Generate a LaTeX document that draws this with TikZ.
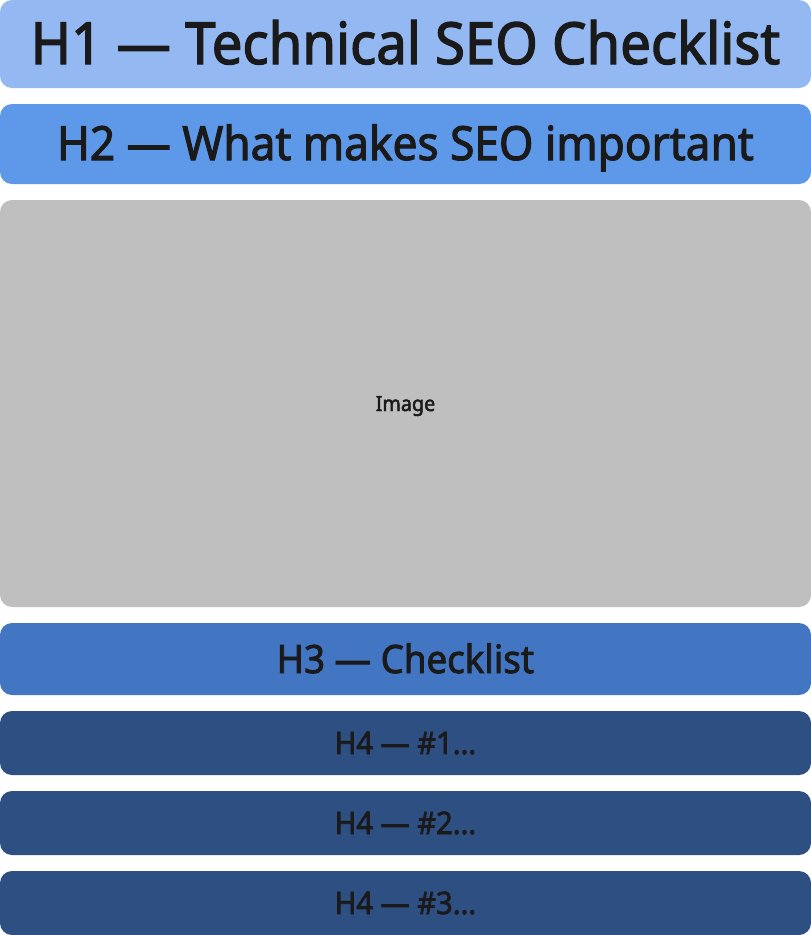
\documentclass[tikz,border=0pt]{standalone}
\usepackage{fontspec}
\setmainfont{Noto Sans}[FakeBold=2.2,FakeStretch=0.94]
\definecolor{hone}{RGB}{147,184,242}
\definecolor{htwo}{RGB}{94,152,232}
\definecolor{hthree}{RGB}{67,118,194}
\definecolor{hfour}{RGB}{45,79,130}
\definecolor{imggray}{RGB}{191,191,191}
\definecolor{txt}{RGB}{26,26,26}
\tikzset{
  bar/.style={fill=#1, draw=none, rounded corners=12pt},
  lbl/.style={text=txt, inner sep=0pt, anchor=base},
}
\begin{document}
\begin{tikzpicture}[x=1pt,y=-1pt]
\useasboundingbox (0,0) rectangle (811,935);
\fill[bar=hone] (0,0) rectangle (811,88);
\fill[bar=htwo] (0,104) rectangle (811,184);
\fill[bar=imggray] (0,200) rectangle (811,607);
\fill[bar=hthree] (0,623) rectangle (811,695);
\fill[bar=hfour] (0,711) rectangle (811,775);
\fill[bar=hfour] (0,791) rectangle (811,855);
\fill[bar=hfour] (0,871) rectangle (811,935);
\node[lbl, font=\fontsize{58}{60}\selectfont] (t1) at (405.5,64) {H1 — Technical SEO Checklist};
\node[lbl, font=\fontsize{47}{50}\selectfont] (t2) at (405.5,160) {H2 — What makes SEO important};
\node[lbl, font=\fontsize{21}{24}\selectfont] (t0) at (405.5,411) {Image};
\node[lbl, font=\fontsize{39}{42}\selectfont] (t3) at (405.5,673) {H3 — Checklist};
\node[lbl, font=\fontsize{31}{34}\selectfont] (t4) at (405.5,754) {H4 — \#1...};
\node[lbl, font=\fontsize{31}{34}\selectfont] (t5) at (405.5,834) {H4 — \#2...};
\node[lbl, font=\fontsize{31}{34}\selectfont] (t6) at (405.5,914) {H4 — \#3...};
\end{tikzpicture}
\end{document}
